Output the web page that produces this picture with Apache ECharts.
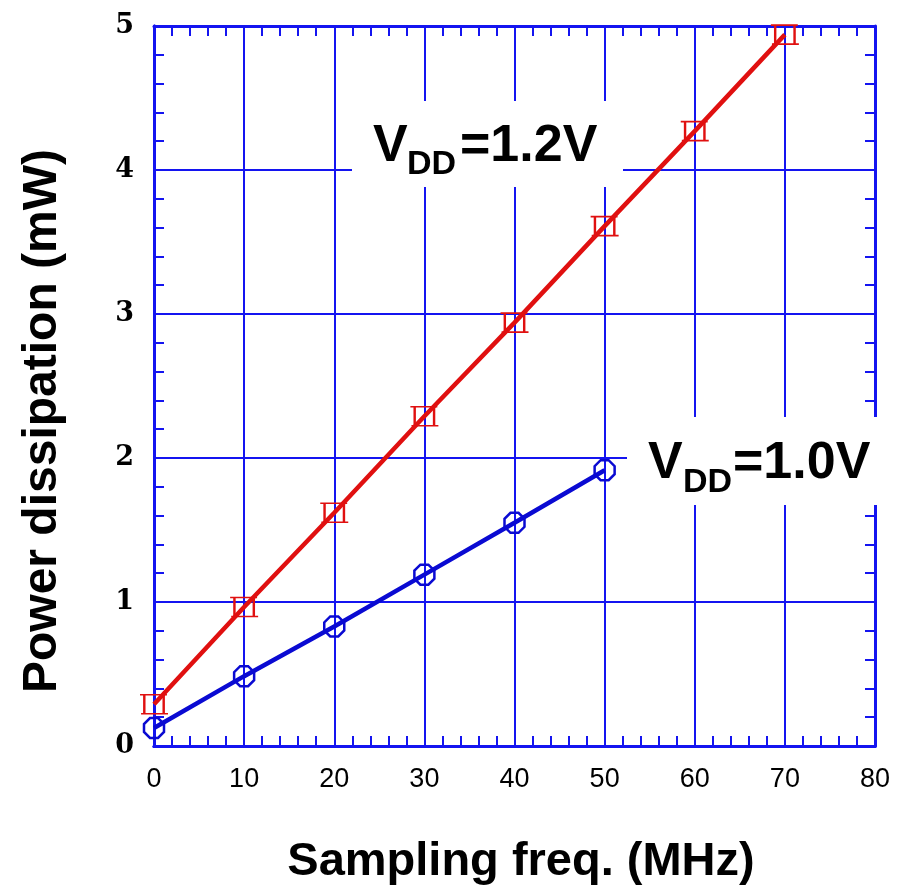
<!DOCTYPE html>
<html>
<head>
<meta charset="utf-8">
<script src="https://cdn.jsdelivr.net/npm/echarts@6/dist/echarts.min.js"></script>
<style>html,body{margin:0;padding:0;background:#fff}#c{width:901px;height:885px}</style>
</head>
<body>
<div id="c"></div>
<script>
const freq12 = [0, 10, 20, 30, 40, 50, 60, 70];
const power12 = [0.29, 0.965, 1.62, 2.29, 2.94, 3.61, 4.27, 4.94];
const freq10 = [0, 10, 20, 30, 40, 50];
const power10 = [0.125, 0.485, 0.83, 1.19, 1.55, 1.915];
const xTicks = [0, 10, 20, 30, 40, 50, 60, 70, 80];
const yTicks = [0, 1, 2, 3, 4, 5];
const xMinorStep = 2;
const yMinorStep = 0.2;
const xTitle = 'Sampling freq. (MHz)';
const yTitle = 'Power dissipation (mW)';
const label12 = ['V', 'DD', '=1.2V'];
const label10 = ['V', 'DD', '=1.0V'];

const AX = '#1414f0';
const RED = '#e01010';
const BLUE = '#0a0ad2';
const SANS = '"Liberation Sans", Arial, sans-serif';

const squareSym = 'path://M-13,-9 L12,-9 M-9,-9 L-9,9 M9,-9 L9,9 M-12,9 L13,9';
const octSym = 'path://M-4,-10 L4,-10 L10,-4 L10,4 L4,10 L-4,10 L-10,4 L-10,-4 Z';

const chart = echarts.init(document.getElementById('c'));
const axLine = { show: true, onZero: false, lineStyle: { color: AX, width: 3 } };
const tickIn = { show: true, inside: true, length: 10, lineStyle: { color: AX, width: 2 } };

const xMin = xTicks[0], xMax = xTicks[xTicks.length - 1];
const yMin = yTicks[0], yMax = yTicks[yTicks.length - 1];

function tickAxisX(pos) {
  return { type: 'value', min: xMin, max: xMax, interval: xMinorStep, position: pos,
    axisLine: axLine, axisTick: tickIn, splitLine: { show: false }, axisLabel: { show: false } };
}
function tickAxisY(pos) {
  return { type: 'value', min: yMin, max: yMax, interval: yMinorStep, position: pos,
    axisLine: axLine, axisTick: tickIn, splitLine: { show: false }, axisLabel: { show: false } };
}

function mk(parts, x, yV, xDD, yDD, xRest, f, fs) {
  return [
    { type: 'text', z: 101, style: { x: x, y: yV, text: parts[0], font: 'bold ' + f + 'px ' + SANS, fill: '#000', verticalAlign: 'middle' } },
    { type: 'text', z: 101, style: { x: xDD, y: yDD, text: parts[1], font: 'bold ' + fs + 'px ' + SANS, fill: '#000', verticalAlign: 'middle' } },
    { type: 'text', z: 101, style: { x: xRest, y: yV, text: parts[2], font: 'bold ' + f + 'px ' + SANS, fill: '#000', verticalAlign: 'middle' } }
  ];
}

chart.setOption({
  animation: false,
  backgroundColor: '#fff',
  grid: { left: 154, right: 26, top: 26, bottom: 139, containLabel: false },
  xAxis: [
    {
      type: 'value', min: xMin, max: xMax, interval: 10, position: 'bottom',
      axisLine: axLine, axisTick: { show: false },
      splitLine: { show: true, lineStyle: { color: AX, width: 2 } },
      axisLabel: { show: true, margin: 20, fontSize: 27, color: '#000', fontFamily: SANS }
    },
    tickAxisX('top'),
    tickAxisX('bottom')
  ],
  yAxis: [
    {
      type: 'value', min: yMin, max: yMax, interval: 1, position: 'left',
      axisLine: axLine, axisTick: { show: false },
      splitLine: { show: true, lineStyle: { color: AX, width: 2 } },
      axisLabel: { show: true, margin: 20, fontSize: 27, fontWeight: 'bold', color: '#000', fontFamily: '"DejaVu Serif", serif' }
    },
    tickAxisY('right'),
    tickAxisY('left')
  ],
  series: [
    {
      type: 'line', xAxisIndex: 0, yAxisIndex: 0,
      data: freq12.map((f, i) => [f, power12[i]]),
      lineStyle: { color: RED, width: 4.5 },
      symbol: squareSym, symbolSize: [28, 19],
      itemStyle: { color: 'rgba(0,0,0,0)', borderColor: RED, borderWidth: 2 },
      z: 5
    },
    {
      type: 'line', xAxisIndex: 0, yAxisIndex: 0,
      data: freq10.map((f, i) => [f, power10[i]]),
      lineStyle: { color: BLUE, width: 4.5 },
      symbol: octSym, symbolSize: 20,
      itemStyle: { color: 'rgba(0,0,0,0)', borderColor: BLUE, borderWidth: 2.5 },
      z: 5
    }
  ],
  graphic: [
    { type: 'rect', z: 100, shape: { x: 352, y: 101, width: 271, height: 86 }, style: { fill: '#fff' } },
    { type: 'rect', z: 100, shape: { x: 627, y: 417, width: 258, height: 88 }, style: { fill: '#fff' } },
    { type: 'text', z: 101, x: 43, y: 421, rotation: Math.PI / 2,
      style: { x: 0, y: 0, text: yTitle, font: 'bold 48px ' + SANS, fill: '#000', align: 'center', verticalAlign: 'middle' } },
    { type: 'text', z: 101, style: { x: 521, y: 862, text: xTitle, font: 'bold 47px ' + SANS, fill: '#000', align: 'center', verticalAlign: 'middle' } }
  ].concat(mk(label12, 373, 147, 407, 165, 460, 52, 34))
   .concat(mk(label10, 648, 464, 683, 483, 733, 52, 34))
});
</script>
</body>
</html>
